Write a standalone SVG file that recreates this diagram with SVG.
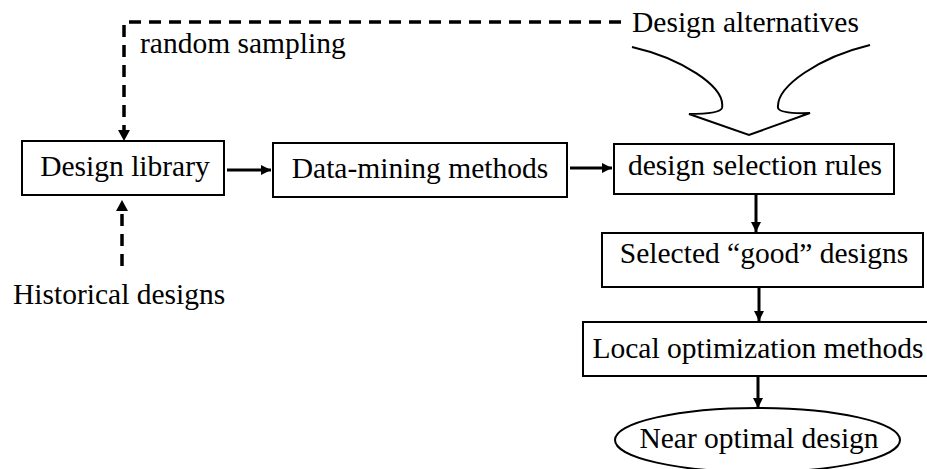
<svg xmlns="http://www.w3.org/2000/svg" width="927" height="469" viewBox="0 0 927 469">
<style>
text{font-size:29.5px;fill:#000}
.box{fill:#fff;stroke:#000;stroke-width:2}
.solid{fill:none;stroke:#000;stroke-width:3}
.dash{fill:none;stroke:#000;stroke-width:3.5;stroke-dasharray:12 8}
.curve{fill:none;stroke:#000;stroke-width:2;stroke-linejoin:miter}
</style>
<defs>
<marker id="ah" viewBox="0 0 10 10" refX="10" refY="5" markerWidth="10" markerHeight="10" markerUnits="userSpaceOnUse" orient="auto">
<path d="M0,0 L10,5 L0,10 Z" fill="#000"/>
</marker>
</defs>
<rect width="927" height="469" fill="#fff"/>
<g id="connectors">
<path class="dash" d="M621,22 H124 V131" />
<path d="M118,130 L130,130 L124,141 Z" fill="#000"/>
<path class="dash" d="M122,266 V210" />
<path d="M116,211 L128,211 L122,200 Z" fill="#000"/>
<line class="solid" x1="227" y1="170" x2="271" y2="170" marker-end="url(#ah)"/>
<line class="solid" x1="570" y1="168" x2="612" y2="168" marker-end="url(#ah)"/>
<line class="solid" x1="756" y1="195" x2="756" y2="232" marker-end="url(#ah)"/>
<line class="solid" x1="759" y1="288" x2="759" y2="321" marker-end="url(#ah)"/>
<line class="solid" x1="758" y1="377" x2="758" y2="408" marker-end="url(#ah)"/>
<path class="curve" d="M632,47 C680,58 726,86 722,108 Q720,114 689,114 L749,135 L810,113 Q780,114 778,108 C776,86 820,57 870,45"/>
</g>
<g font-family="'Liberation Serif', 'DejaVu Serif', serif">
<g id="n-random"><text x="140" y="53">random sampling</text></g>
<g id="n-alternatives"><text x="632" y="32">Design alternatives</text></g>
<g id="n-historical"><text x="13" y="304">Historical designs</text></g>
<g id="n-library"><rect class="box" x="22" y="141" width="202" height="54"/><text x="125" y="176" text-anchor="middle">Design library</text></g>
<g id="n-datamining"><rect class="box" x="273" y="143" width="294" height="54"/><text x="420" y="178" text-anchor="middle">Data-mining methods</text></g>
<g id="n-rules"><rect class="box" x="614" y="144" width="280" height="50"/><text x="755" y="175" text-anchor="middle">design selection rules</text></g>
<g id="n-selected"><rect class="box" x="602" y="233" width="321" height="54"/><text x="764" y="263" text-anchor="middle">Selected “good” designs</text></g>
<g id="n-local"><rect class="box" x="583" y="322" width="360" height="54"/><text x="758" y="358" text-anchor="middle">Local optimization methods</text></g>
<g id="n-near"><ellipse class="box" cx="757.5" cy="440" rx="142.5" ry="32"/><text x="759" y="448" text-anchor="middle">Near optimal design</text></g>
</g>
</svg>
